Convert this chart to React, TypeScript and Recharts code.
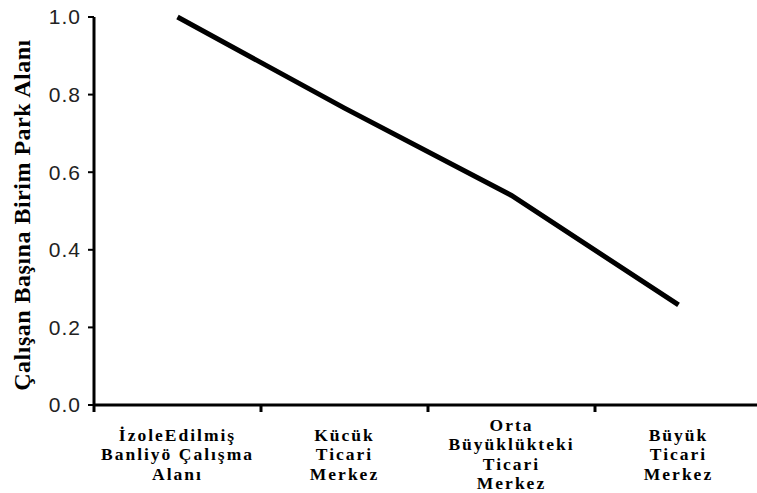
import { LineChart, Line, XAxis, YAxis } from 'recharts'

// category labels, one string per category, lines split by '\n'
const categories = [
  'İzoleEdilmiş\nBanliyö Çalışma\nAlanı',
  'Kücük\nTicari\nMerkez',
  'Orta\nBüyüklükteki\nTicari\nMerkez',
  'Büyük\nTicari\nMerkez',
]
const parkArea = [1.0, 0.765, 0.54, 0.258]
const yTicks = [0, 0.2, 0.4, 0.6, 0.8, 1.0]
const yTitle = 'Çalışan Başına Birim Park Alanı'

const data = categories.map((c, i) => ({ name: c, value: parkArea[i] }))

const CategoryTick = (props: any) => {
  const { x, y, payload } = props
  const half = payload.offset || 0
  const lines = String(payload.value).split('\n')
  const lineH = 19.5
  const center = y + 49
  const first = center - ((lines.length - 1) * lineH) / 2
  return (
    <g>
      {/* tick marks sit on the band boundaries, not the centres */}
      <line x1={x - half} x2={x - half} y1={y - 1} y2={y + 7} stroke="#000" strokeWidth={3} />
      <text
        textAnchor="middle"
        fontFamily="'Liberation Serif', 'Times New Roman', serif"
        fontWeight="bold"
        fontSize={17.5}
        letterSpacing={2}
        fill="#000"
      >
        {lines.map((l, i) => (
          <tspan key={i} x={x} y={first + i * lineH} dominantBaseline="central">
            {l}
          </tspan>
        ))}
      </text>
    </g>
  )
}

const YTitle = (props: any) => {
  const vb = props.viewBox || { x: 0, y: 0, width: 0, height: 0 }
  const cx = 22
  const cy = vb.y + vb.height / 2 + 4
  return (
    <text
      x={cx}
      y={cy}
      transform={`rotate(-90, ${cx}, ${cy})`}
      textAnchor="middle"
      dominantBaseline="central"
      fontFamily="'Liberation Serif', 'Times New Roman', serif"
      fontWeight="bold"
      fontSize={24}
      letterSpacing={0.5}
      fill="#000"
    >
      {yTitle}
    </text>
  )
}

export default function App() {
  return (
    <div style={{ position: 'absolute', left: 0, top: 0, width: 757, height: 493, background: '#fff' }}>
      <LineChart width={757} height={493} data={data} margin={{ top: 17, right: -5, left: 0, bottom: 0 }}>
        <XAxis
          dataKey="name"
          scale="band"
          interval={0}
          height={88}
          axisLine={{ stroke: '#000', strokeWidth: 3 }}
          tickLine={false}
          tickSize={0}
          tickMargin={0}
          tick={<CategoryTick />}
        />
        <YAxis
          width={94}
          domain={[0, 1]}
          ticks={yTicks}
          tickFormatter={(v: number) => v.toFixed(1)}
          axisLine={{ stroke: '#000', strokeWidth: 3 }}
          tickLine={{ stroke: '#000', strokeWidth: 2 }}
          tickSize={6}
          tickMargin={7}
          tick={{ fill: '#222', fontSize: 21, fontFamily: "'Liberation Sans', Arial, sans-serif", letterSpacing: 1 }}
          label={<YTitle />}
        />
        <Line
          type="linear"
          dataKey="value"
          stroke="#000"
          strokeWidth={5}
          dot={false}
          activeDot={false}
          isAnimationActive={false}
        />
      </LineChart>
    </div>
  )
}
